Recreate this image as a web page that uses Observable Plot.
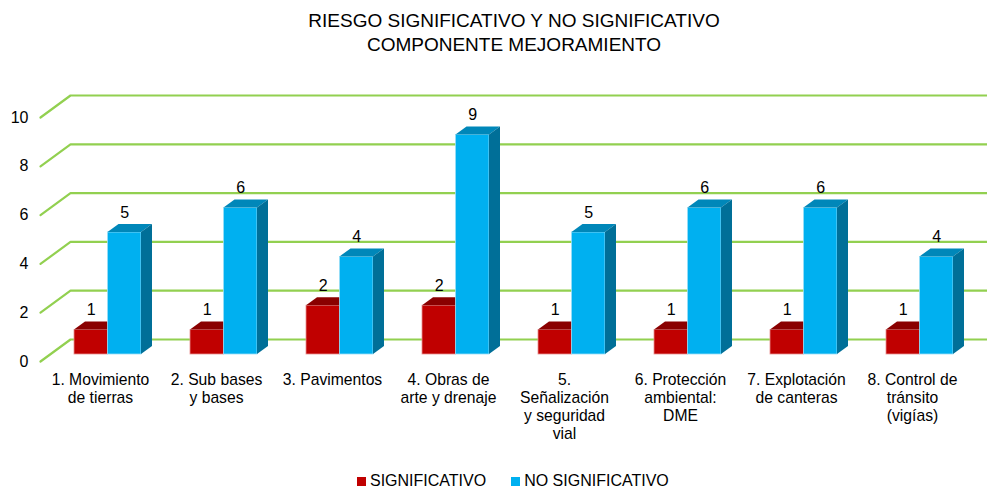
<!DOCTYPE html>
<html>
<head>
<meta charset="utf-8">
<script src="https://cdn.jsdelivr.net/npm/d3@7"></script>
<script src="https://cdn.jsdelivr.net/npm/@observablehq/plot@0.6"></script>
<style>
  body { margin: 0; background: #fff; font-family: "Liberation Sans", Arial, sans-serif; color: #000; }
  #title { height: 60px; box-sizing: border-box; padding-top: 9px; padding-left: 41px; text-align: center; font-size: 19px; line-height: 24px; }
  #legend { display: flex; align-items: center; padding-left: 357px; padding-top: 6px; font-size: 16px; line-height: 20px; }
  #legend .sw { width: 9px; height: 9px; margin-right: 4px; }
  #legend .item { display: flex; align-items: center; margin-right: 25px; }
  #chart svg { display: block; }
</style>
</head>
<body>
<div id="title">RIESGO SIGNIFICATIVO Y NO SIGNIFICATIVO<br>COMPONENTE MEJORAMIENTO</div>
<div id="chart"></div>
<div id="legend"></div>
<script>
const categories = [
  "1. Movimiento\nde tierras",
  "2. Sub bases\ny bases",
  "3. Pavimentos",
  "4. Obras de\narte y drenaje",
  "5.\nSeñalización\ny seguridad\nvial",
  "6. Protección\nambiental:\nDME",
  "7. Explotación\nde canteras",
  "8. Control de\ntránsito\n(vigías)"
];
const significativo = [1, 1, 2, 2, 1, 1, 1, 1];
const noSignificativo = [5, 6, 4, 9, 5, 6, 6, 4];
const seriesNames = ["SIGNIFICATIVO", "NO SIGNIFICATIVO"];
const yTicks = [0, 2, 4, 6, 8, 10];

// colours per series: front, top, side
const colors = [
  {front: "#C00000", top: "#8A0000", side: "#960000", edge: "#E89090"},
  {front: "#00B0F0", top: "#0087B9", side: "#006F98", edge: "#9ADFF7"}
];

// layout (pixels -> data units)
const W = 987, H = 405;
const mL = 40, mR = 19, mT = 57, mB = 104;
const pxX = (W - mL - mR) / categories.length;
const pxY = (H - mT - mB) / 10;
const DEPTH_X = 30 / pxX, DEPTH_Y = 22 / pxY;
const BAR_X0 = 24.5 / pxX, BAR_W = 33.5 / pxX;
const OFF_X = 9.5 / pxX, OFF_Y = 7 / pxY;
const BDX = 11 / pxX, BDY = 8 / pxY;

// gridlines (diagonal floor edge + back wall line)
const grid = [];
for (const k of yTicks) {
  grid.push({k, x: 0, y: k});
  grid.push({k, x: DEPTH_X, y: k + DEPTH_Y});
  grid.push({k, x: categories.length + 1, y: k + DEPTH_Y});
}

const seriesValues = [significativo, noSignificativo];
const fronts = [], tops = [], sides = [], labels = [];
seriesValues.forEach((vals, s) => {
  vals.forEach((v, i) => {
    const xl = i + BAR_X0 + s * BAR_W + OFF_X, xr = xl + BAR_W;
    const yb = OFF_Y, yt = v + OFF_Y;
    const id = s + "-" + i;
    fronts.push({s, x1: xl, x2: xr, y1: yb, y2: yt});
    tops.push({s, id, x1: xl, x2: xr, y: yt});
    tops.push({s, id, x1: xl + BDX, x2: xr + BDX, y: yt + BDY});
    sides.push({s, id, x: xr, y1: yb, y2: yt});
    sides.push({s, id, x: xr + BDX, y1: yb + BDY, y2: yt + BDY});
    labels.push({x: (xl + xr) / 2, y: yt, text: String(v)});
  });
});

const marks = [
  Plot.line(grid, {x: "x", y: "y", z: "k", stroke: "#92D050", strokeWidth: 2.2})
];
[0, 1].forEach(s => {
  const c = colors[s];
  marks.push(Plot.rect(fronts.filter(d => d.s === s), {x1: "x1", x2: "x2", y1: "y1", y2: "y2", fill: c.front, stroke: c.edge, strokeWidth: 0.8}));
  marks.push(Plot.area(tops.filter(d => d.s === s), {x1: "x1", x2: "x2", y1: "y", y2: "y", z: "id", fill: c.top, curve: "linear"}));
  marks.push(Plot.area(sides.filter(d => d.s === s), {x1: "x", x2: "x", y1: "y1", y2: "y2", z: "id", fill: c.side, curve: "linear"}));
});
marks.push(Plot.text(labels, {x: "x", y: "y", text: "text", dy: -20, fontSize: 16, fill: "#000"}));
marks.push(Plot.text(yTicks, {x: 0, y: d => d, text: d => String(d), dx: -12, textAnchor: "end", fontSize: 16, fill: "#000"}));
marks.push(Plot.text(categories, {x: (d, i) => i + 0.5, y: 0, text: d => d, dx: 2, dy: 11, lineAnchor: "top", lineHeight: 18 / 15.7, fontSize: 15.7, fill: "#000"}));

const chart = Plot.plot({
  width: W, height: H,
  marginLeft: mL, marginRight: mR, marginTop: mT, marginBottom: mB,
  x: {domain: [0, categories.length], axis: null},
  y: {domain: [0, 10], axis: null},
  style: {fontFamily: '"Liberation Sans", Arial, sans-serif', background: "#fff", color: "#000", overflow: "hidden"},
  marks
});
document.getElementById("chart").appendChild(chart);

const legend = document.getElementById("legend");
seriesNames.forEach((name, s) => {
  const item = document.createElement("div");
  item.className = "item";
  const sw = document.createElement("span");
  sw.className = "sw";
  sw.style.background = colors[s].front;
  item.appendChild(sw);
  item.appendChild(document.createTextNode(name));
  legend.appendChild(item);
});
</script>
</body>
</html>
